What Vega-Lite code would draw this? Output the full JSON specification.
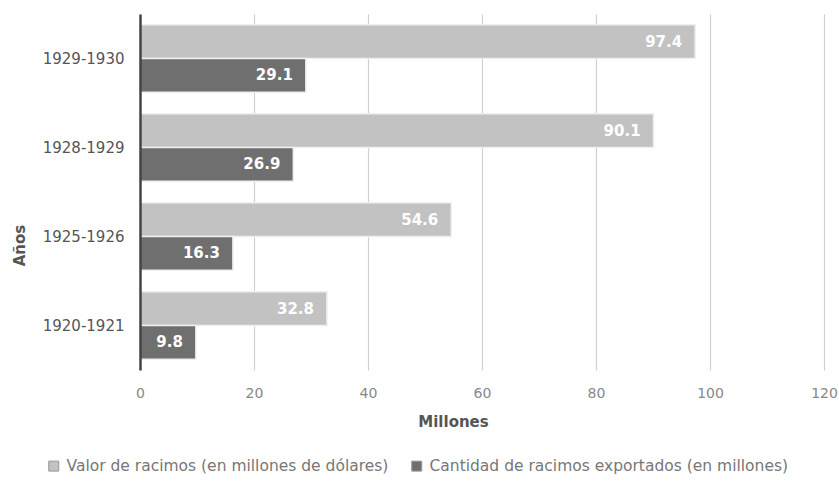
{
  "$schema": "https://vega.github.io/schema/vega-lite/v6.json",
  "width": 684,
  "height": 356,
  "autosize": {"type": "none"},
  "padding": {"left": 140, "top": 14, "right": 15, "bottom": 114},
  "background": "white",
  "config": {
    "font": "DejaVu Sans",
    "view": {"stroke": null}
  },
  "data": {
    "values": [
      {"anio": "1929-1930", "serie": "Valor de racimos (en millones de dólares)", "valor": 97.4},
      {"anio": "1929-1930", "serie": "Cantidad de racimos exportados (en millones)", "valor": 29.1},
      {"anio": "1928-1929", "serie": "Valor de racimos (en millones de dólares)", "valor": 90.1},
      {"anio": "1928-1929", "serie": "Cantidad de racimos exportados (en millones)", "valor": 26.9},
      {"anio": "1925-1926", "serie": "Valor de racimos (en millones de dólares)", "valor": 54.6},
      {"anio": "1925-1926", "serie": "Cantidad de racimos exportados (en millones)", "valor": 16.3},
      {"anio": "1920-1921", "serie": "Valor de racimos (en millones de dólares)", "valor": 32.8},
      {"anio": "1920-1921", "serie": "Cantidad de racimos exportados (en millones)", "valor": 9.8}
    ]
  },
  "encoding": {
    "y": {
      "field": "anio", "type": "nominal",
      "sort": ["1929-1930", "1928-1929", "1925-1926", "1920-1921"],
      "scale": {"paddingInner": 0.24, "paddingOuter": 0.12},
      "axis": {
        "title": "Años", "titleFontSize": 15, "titleFontWeight": "bold", "titleColor": "#555",
        "titleX": -113, "titleY": 231,
        "labelFontSize": 15, "labelColor": "#555", "labelPadding": 16,
        "ticks": false, "domainColor": "#444", "domainWidth": 2.5, "grid": false, "zindex": 1
      }
    },
    "yOffset": {
      "field": "serie", "type": "nominal",
      "sort": ["Valor de racimos (en millones de dólares)", "Cantidad de racimos exportados (en millones)"],
      "scale": {"paddingInner": 0, "paddingOuter": 0}
    },
    "x": {
      "field": "valor", "type": "quantitative",
      "scale": {"domain": [0, 120], "nice": false},
      "axis": {
        "values": [0, 20, 40, 60, 80, 100, 120],
        "title": "Millones", "titleFontSize": 15, "titleFontWeight": "bold", "titleColor": "#555",
        "titleX": 313, "titlePadding": 14,
        "labelFontSize": 14, "labelColor": "#888", "labelPadding": 16, "labelFlush": false,
        "ticks": false, "domain": false,
        "grid": true, "gridColor": "#d0d0d0", "gridWidth": 1.2
      }
    }
  },
  "layer": [
    {
      "mark": {"type": "bar", "stroke": "#efefef", "strokeWidth": 1.5},
      "encoding": {
        "color": {
          "field": "serie", "type": "nominal",
          "sort": ["Valor de racimos (en millones de dólares)", "Cantidad de racimos exportados (en millones)"],
          "scale": {"range": ["#c2c2c2", "#6f6f6f"]},
          "legend": {
            "title": null, "orient": "none", "direction": "horizontal",
            "legendX": -94, "legendY": 444,
            "symbolType": "square", "symbolSize": 100, "symbolStrokeColor": "#999", "symbolStrokeWidth": 1,
            "labelFontSize": 15.5, "labelColor": "#777", "labelOffset": 5, "labelLimit": 0,
            "columnPadding": 20
          }
        }
      }
    },
    {
      "mark": {"type": "text", "align": "right", "dx": -13, "color": "white", "fontWeight": "bold", "fontSize": 15},
      "encoding": {
        "text": {"field": "valor", "type": "quantitative", "format": ".1f"}
      }
    }
  ]
}
